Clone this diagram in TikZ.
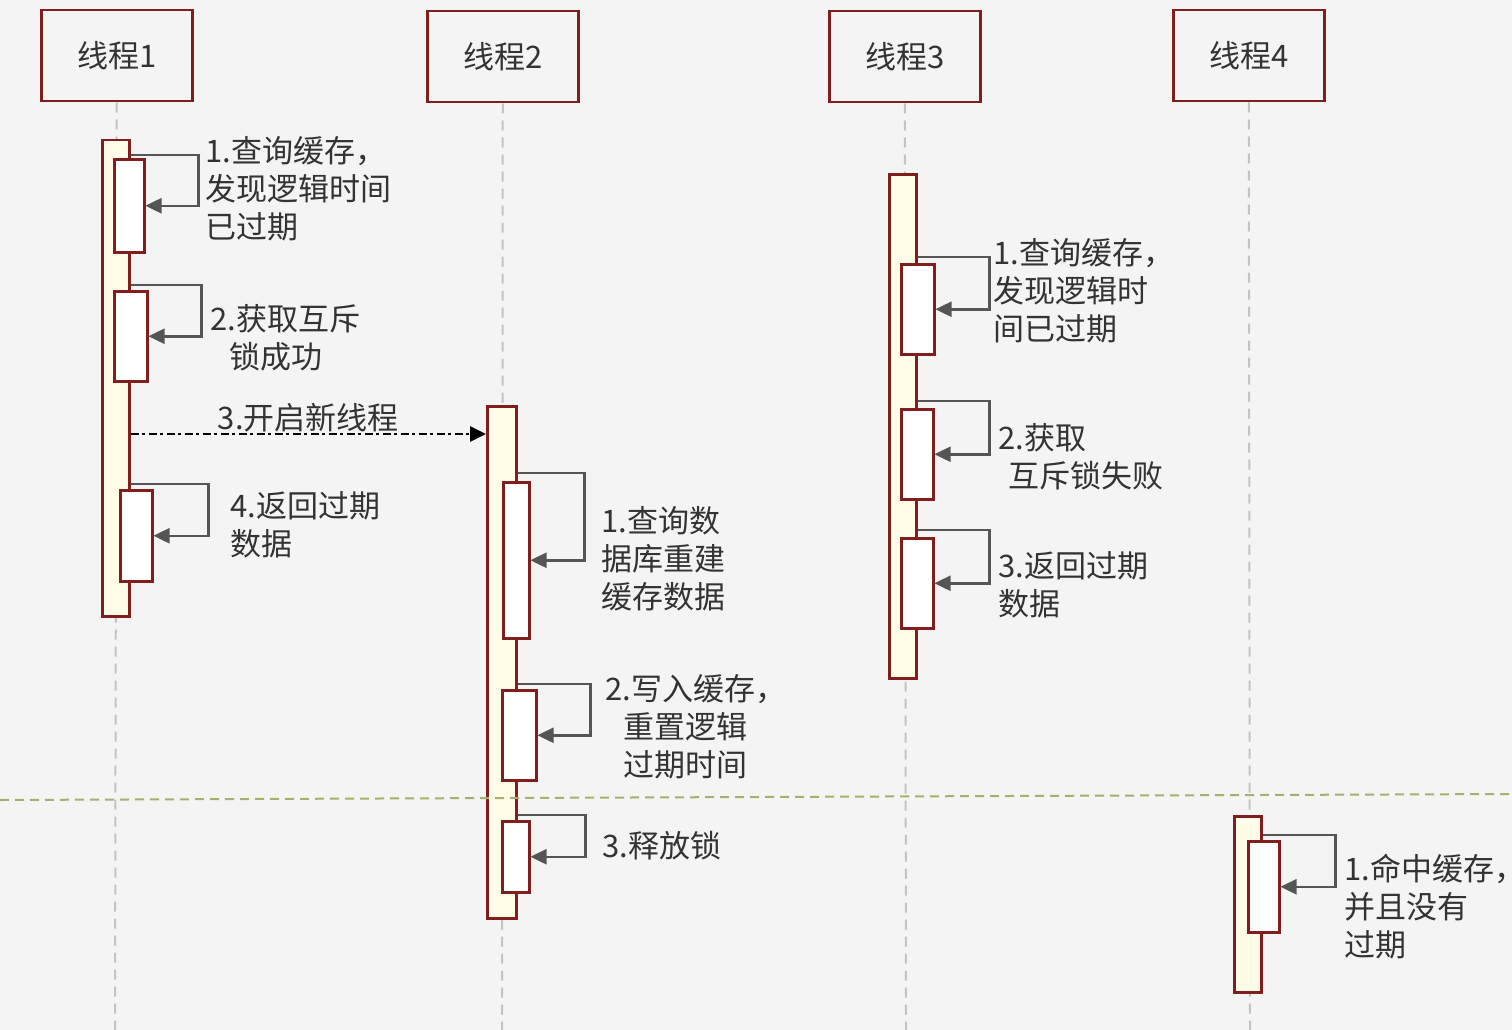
\documentclass[tikz,border=0pt]{standalone}
\usepackage{fontspec}
\setmainfont{Noto Sans CJK SC}
\usetikzlibrary{arrows.meta,calc}
\definecolor{bg}{RGB}{244,244,244}
\definecolor{dred}{RGB}{128,30,30}
\definecolor{cream}{RGB}{255,253,232}
\definecolor{txt}{RGB}{51,51,51}
\definecolor{lgray}{RGB}{195,195,195}
\definecolor{loopc}{RGB}{85,85,85}
\definecolor{olivec}{RGB}{165,175,110}
\begin{document}
\begin{tikzpicture}[x=1pt,y=-1pt,
 every node/.style={font=\fontsize{31}{38}\selectfont, text=txt},
 head/.style={draw=dred, line width=2.5pt, fill=bg, minimum width=151pt, minimum height=91pt, anchor=north west, inner sep=0pt},
 actbox/.style={draw=dred, line width=2.5pt, fill=cream, anchor=north west, inner sep=0pt},
 subbox/.style={draw=dred, line width=2.5pt, fill=white, anchor=north west, inner sep=0pt},
 lifeline/.style={draw=lgray, line width=2pt, dash pattern=on 10pt off 7pt},
 selfmsg/.style={draw=loopc, line width=2.5pt, -{Triangle[length=16pt,width=15pt]}},
 msg/.style={draw=black, line width=2.8pt, dash pattern=on 8pt off 3.5pt on 3pt off 3.5pt, -{Triangle[length=16pt,width=15pt]}},
 sep/.style={draw=olivec, line width=2pt, dash pattern=on 9pt off 6pt},
 lbl/.style={anchor=north west, inner sep=0pt, align=left},
]
\useasboundingbox (0,0) rectangle (1512,1030);
\fill[bg] (0,0) rectangle (1512,1030);

% headers
\node[head] (h1) at (40,9) {线程1};
\node[head] (h2) at (426,10) {线程2};
\node[head] (h3) at (828,10) {线程3};
\node[head] (h4) at (1172,9) {线程4};

% lifelines
\coordinate (e1) at (115,1030);
\coordinate (e2) at (502,1030);
\coordinate (e3) at (906,1030);
\coordinate (e4) at (1250,1030);
\draw[lifeline] (h1.south) -- (e1);
\draw[lifeline] (h2.south) -- (e2);
\draw[lifeline] (h3.south) -- (e3);
\draw[lifeline] (h4.south) -- (e4);

% activations
\node[actbox, minimum width=27pt, minimum height=476pt] (a1) at (101,139) {};
\node[actbox, minimum width=29pt, minimum height=512pt] (a2) at (486,405) {};
\node[actbox, minimum width=27pt, minimum height=504pt] (a3) at (888,173) {};
\node[actbox, minimum width=27pt, minimum height=176pt] (a4) at (1233,815) {};

% inner boxes
\node[subbox, minimum width=30pt, minimum height=93pt] (b11) at (113,158) {};
\node[subbox, minimum width=33pt, minimum height=90pt] (b12) at (113,290) {};
\node[subbox, minimum width=32pt, minimum height=91pt] (b13) at (119,489) {};
\node[subbox, minimum width=26pt, minimum height=156pt] (b21) at (502,481) {};
\node[subbox, minimum width=34pt, minimum height=90pt] (b22) at (501,689) {};
\node[subbox, minimum width=27pt, minimum height=71pt] (b23) at (501,820) {};
\node[subbox, minimum width=33pt, minimum height=90pt] (b31) at (900,263) {};
\node[subbox, minimum width=32pt, minimum height=90pt] (b32) at (900,408) {};
\node[subbox, minimum width=32pt, minimum height=90pt] (b33) at (900,537) {};
\node[subbox, minimum width=31pt, minimum height=91pt] (b41) at (1247,840) {};

% self messages
\draw[selfmsg] ($(b11.north east -| a1.east)+(0,-3)$) -| ($(b11.east)+(53,0)$) -- (b11.east);
\draw[selfmsg] ($(b12.north east -| a1.east)+(0,-5)$) -| ($(b12.east)+(53,0)$) -- (b12.east);
\draw[selfmsg] ($(b13.north east -| a1.east)+(0,-5)$) -| ($(b13.east)+(55,0)$) -- (b13.east);
\draw[selfmsg] ($(b21.north east -| a2.east)+(0,-8)$) -| ($(b21.east)+(54,0)$) -- (b21.east);
\draw[selfmsg] ($(b22.north east -| a2.east)+(0,-5)$) -| ($(b22.east)+(53,0)$) -- (b22.east);
\draw[selfmsg] ($(b23.north east -| a2.east)+(0,-5)$) -| ($(b23.east)+(55,0)$) -- (b23.east);
\draw[selfmsg] ($(b31.north east -| a3.east)+(0,-6)$) -| ($(b31.east)+(54,0)$) -- (b31.east);
\draw[selfmsg] ($(b32.north east -| a3.east)+(0,-7)$) -| ($(b32.east)+(55,0)$) -- (b32.east);
\draw[selfmsg] ($(b33.north east -| a3.east)+(0,-7)$) -| ($(b33.east)+(55,0)$) -- (b33.east);
\draw[selfmsg] ($(b41.north east -| a4.east)+(0,-5)$) -| ($(b41.east)+(55,0)$) -- (b41.east);

% message between threads
\coordinate (m) at (0,434);
\draw[msg] (a1.east |- m) -- (a2.west |- m) node[midway, above, inner sep=1pt] (ml) {3.开启新线程};

% separator
\coordinate (dl) at (0,800);
\coordinate (dr) at (1512,794);
\draw[sep] (dl) -- (dr);

% labels
\node[lbl] (t11) at (205,136) {1.查询缓存，\\发现逻辑时间\\已过期};
\node[lbl] (t12) at (210,304) {2.获取互斥\\\hspace*{19pt}锁成功};
\node[lbl] (t14) at (230,491) {4.返回过期\\数据};
\node[lbl] (t21) at (601,506) {1.查询数\\据库重建\\缓存数据};
\node[lbl] (t22) at (605,674) {2.写入缓存，\\\hspace*{18pt}重置逻辑\\\hspace*{18pt}过期时间};
\node[lbl] (t23) at (602,831) {3.释放锁};
\node[lbl] (t31) at (993,238) {1.查询缓存，\\发现逻辑时\\间已过期};
\node[lbl] (t32) at (998,423) {2.获取\\\hspace*{10pt}互斥锁失败};
\node[lbl] (t33) at (998,551) {3.返回过期\\数据};
\node[lbl] (t41) at (1344,854) {1.命中缓存，\\并且没有\\过期};
\end{tikzpicture}
\end{document}
